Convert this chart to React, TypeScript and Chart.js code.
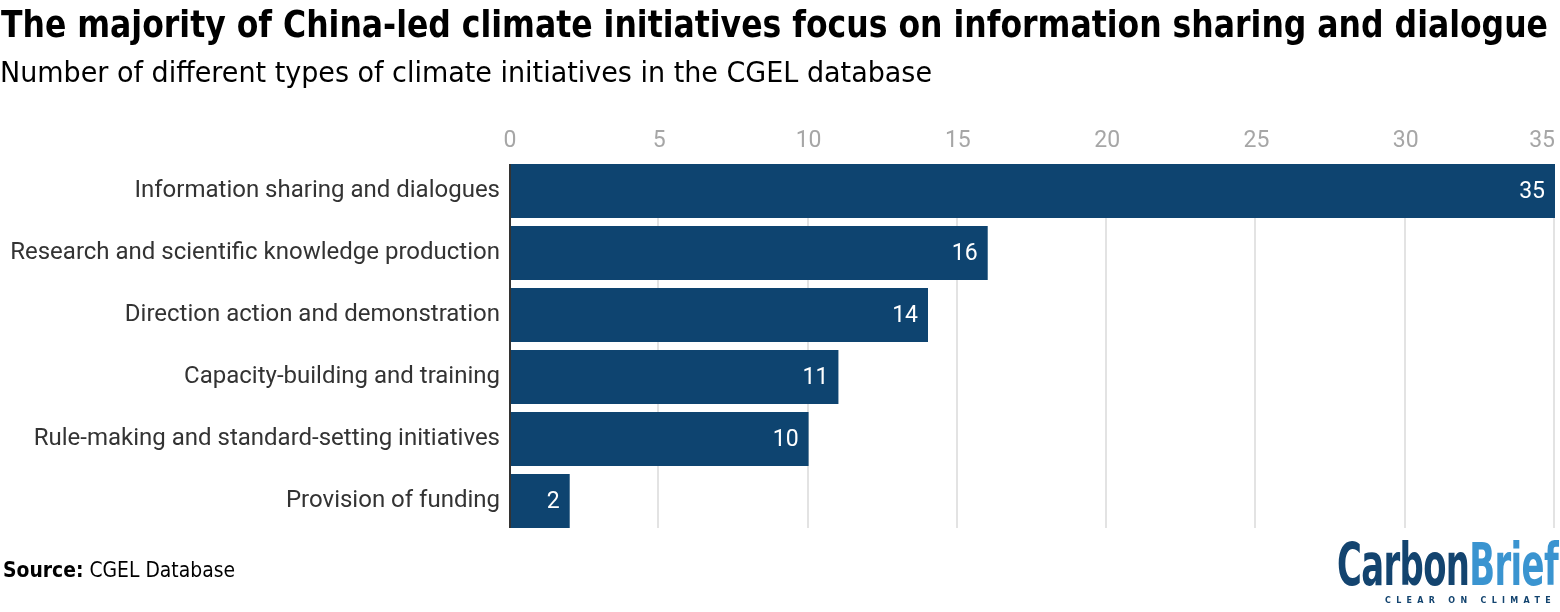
import React, { useEffect, useLayoutEffect, useRef } from "react";
import { Chart, registerables } from "chart.js";

Chart.register(...registerables);

const categories = [
  "Information sharing and dialogues",
  "Research and scientific knowledge production",
  "Direction action and demonstration",
  "Capacity-building and training",
  "Rule-making and standard-setting initiatives",
  "Provision of funding",
];
const counts = [35, 16, 14, 11, 10, 2];
const xTicks = [0, 5, 10, 15, 20, 25, 30, 35];

const BAR = "#0e4470";
const LABEL_FONT = "Roboto";
const HEAD_FONT = "'DejaVu Sans Condensed', 'DejaVu Sans', sans-serif";

// Grid lines and the baseline span only the band covered by the bars.
const gridPlugin = {
  id: "barBandGrid",
  beforeDatasetsDraw(chart: any) {
    const { ctx } = chart;
    const bars = chart.getDatasetMeta(0).data as any[];
    if (!bars.length) return;
    const top = bars[0].y - bars[0].height / 2;
    const last = bars[bars.length - 1];
    const bottom = last.y + last.height / 2;
    const xs = chart.scales.x;
    ctx.save();
    ctx.strokeStyle = "#e3e3e3";
    ctx.lineWidth = 2;
    xTicks.forEach((v) => {
      if (v === 0) return;
      const px = Math.round(xs.getPixelForValue(v)) - 1;
      ctx.beginPath();
      ctx.moveTo(px, top);
      ctx.lineTo(px, bottom);
      ctx.stroke();
    });
    ctx.restore();
  },
  afterDatasetsDraw(chart: any) {
    const { ctx } = chart;
    const bars = chart.getDatasetMeta(0).data as any[];
    const xs = chart.scales.x;
    const top = bars[0].y - bars[0].height / 2;
    const last = bars[bars.length - 1];
    const bottom = last.y + last.height / 2;
    ctx.save();
    // baseline at zero
    ctx.strokeStyle = "#333333";
    ctx.lineWidth = 2;
    const x0 = xs.getPixelForValue(0);
    ctx.beginPath();
    ctx.moveTo(x0, top);
    ctx.lineTo(x0, bottom);
    ctx.stroke();
    // value labels inside bar ends
    ctx.fillStyle = "#ffffff";
    ctx.font = `23px ${LABEL_FONT}`;
    ctx.textAlign = "right";
    ctx.textBaseline = "middle";
    bars.forEach((b, i) => {
      ctx.fillText(String(counts[i]), b.x - 10, b.y + 1);
    });
    // axis tick labels along the top
    ctx.fillStyle = "#a6a6a6";
    ctx.font = `23px ${LABEL_FONT}`;
    xTicks.forEach((v) => {
      const px = xs.getPixelForValue(v);
      const w = ctx.measureText(String(v)).width;
      let cx = px;
      if (cx + w / 2 > chart.chartArea.right) cx = chart.chartArea.right - w / 2;
      ctx.textAlign = "center";
      ctx.fillText(String(v), cx, 141);
    });
    ctx.restore();
  },
};

// Text block squeezed horizontally to a given width.
function FitText(props: {
  left: number;
  top: number;
  width: number;
  style: React.CSSProperties;
  children: React.ReactNode;
}) {
  const ref = useRef<HTMLDivElement | null>(null);
  useLayoutEffect(() => {
    const el = ref.current;
    if (!el) return;
    el.style.transform = "none";
    const w = el.getBoundingClientRect().width;
    if (w > 0) el.style.transform = `scaleX(${props.width / w})`;
  }, [props.width]);
  return (
    <div
      ref={ref}
      style={{
        position: "absolute",
        left: props.left,
        top: props.top,
        whiteSpace: "nowrap",
        transformOrigin: "0 0",
        ...props.style,
      }}
    >
      {props.children}
    </div>
  );
}

export default function App() {
  const ref = useRef<HTMLCanvasElement | null>(null);

  useEffect(() => {
    if (!ref.current) return;
    const chart = new Chart(ref.current, {
      type: "bar",
      data: {
        labels: categories,
        datasets: [
          {
            data: counts,
            backgroundColor: BAR,
            borderWidth: 0,
            categoryPercentage: 1,
            barPercentage: 0.87,
          },
        ],
      },
      options: {
        indexAxis: "y",
        responsive: false,
        animation: false,
        layout: { padding: { top: 160, bottom: 80, left: 0, right: 5 } },
        plugins: {
          legend: { display: false },
          tooltip: { enabled: false },
        },
        scales: {
          x: {
            position: "top",
            min: 0,
            max: 35,
            ticks: { display: false, stepSize: 5 },
            grid: { display: false, drawTicks: false },
            border: { display: false },
            afterFit: (s: any) => {
              s.height = 0;
            },
          },
          y: {
            ticks: {
              color: "#333333",
              font: { family: LABEL_FONT, size: 24 },
              padding: 10,
            },
            grid: { display: false, drawTicks: false },
            border: { display: false },
            afterFit: (s: any) => {
              s.width = 510;
            },
          },
        },
      },
      plugins: [gridPlugin],
    });
    return () => chart.destroy();
  }, []);

  return (
    <div
      style={{
        position: "absolute",
        left: 0,
        top: 0,
        width: 1560,
        height: 612,
        background: "#ffffff",
        overflow: "hidden",
      }}
    >
      <canvas
        ref={ref}
        width={1560}
        height={612}
        style={{ position: "absolute", left: 0, top: 0 }}
      />
      <FitText
        left={1}
        top={1}
        width={1547}
        style={{ fontFamily: HEAD_FONT, fontWeight: 700, fontSize: 38, color: "#000", lineHeight: "46px" }}
      >
        The majority of China-led climate initiatives focus on information sharing and dialogue
      </FitText>
      <FitText
        left={0}
        top={56}
        width={932}
        style={{ fontFamily: HEAD_FONT, fontSize: 28, color: "#000", lineHeight: "34px" }}
      >
        Number of different types of climate initiatives in the CGEL database
      </FitText>
      <FitText
        left={3}
        top={557}
        width={232}
        style={{ fontFamily: HEAD_FONT, fontSize: 21, color: "#000", lineHeight: "26px" }}
      >
        <b>Source:</b> CGEL Database
      </FitText>
      <FitText
        left={1337}
        top={535}
        width={221}
        style={{ fontFamily: HEAD_FONT, fontWeight: 700, fontSize: 58, lineHeight: "60px", letterSpacing: -1 }}
      >
        <span style={{ color: "#13446f" }}>Carbon</span>
        <span style={{ color: "#3a94d0" }}>Brief</span>
      </FitText>
      <FitText
        left={1385}
        top={595}
        width={171}
        style={{ fontFamily: "'DejaVu Sans', sans-serif", fontWeight: 700, fontSize: 9, letterSpacing: 6, color: "#13446f", lineHeight: "11px" }}
      >
        CLEAR ON CLIMATE
      </FitText>
    </div>
  );
}
